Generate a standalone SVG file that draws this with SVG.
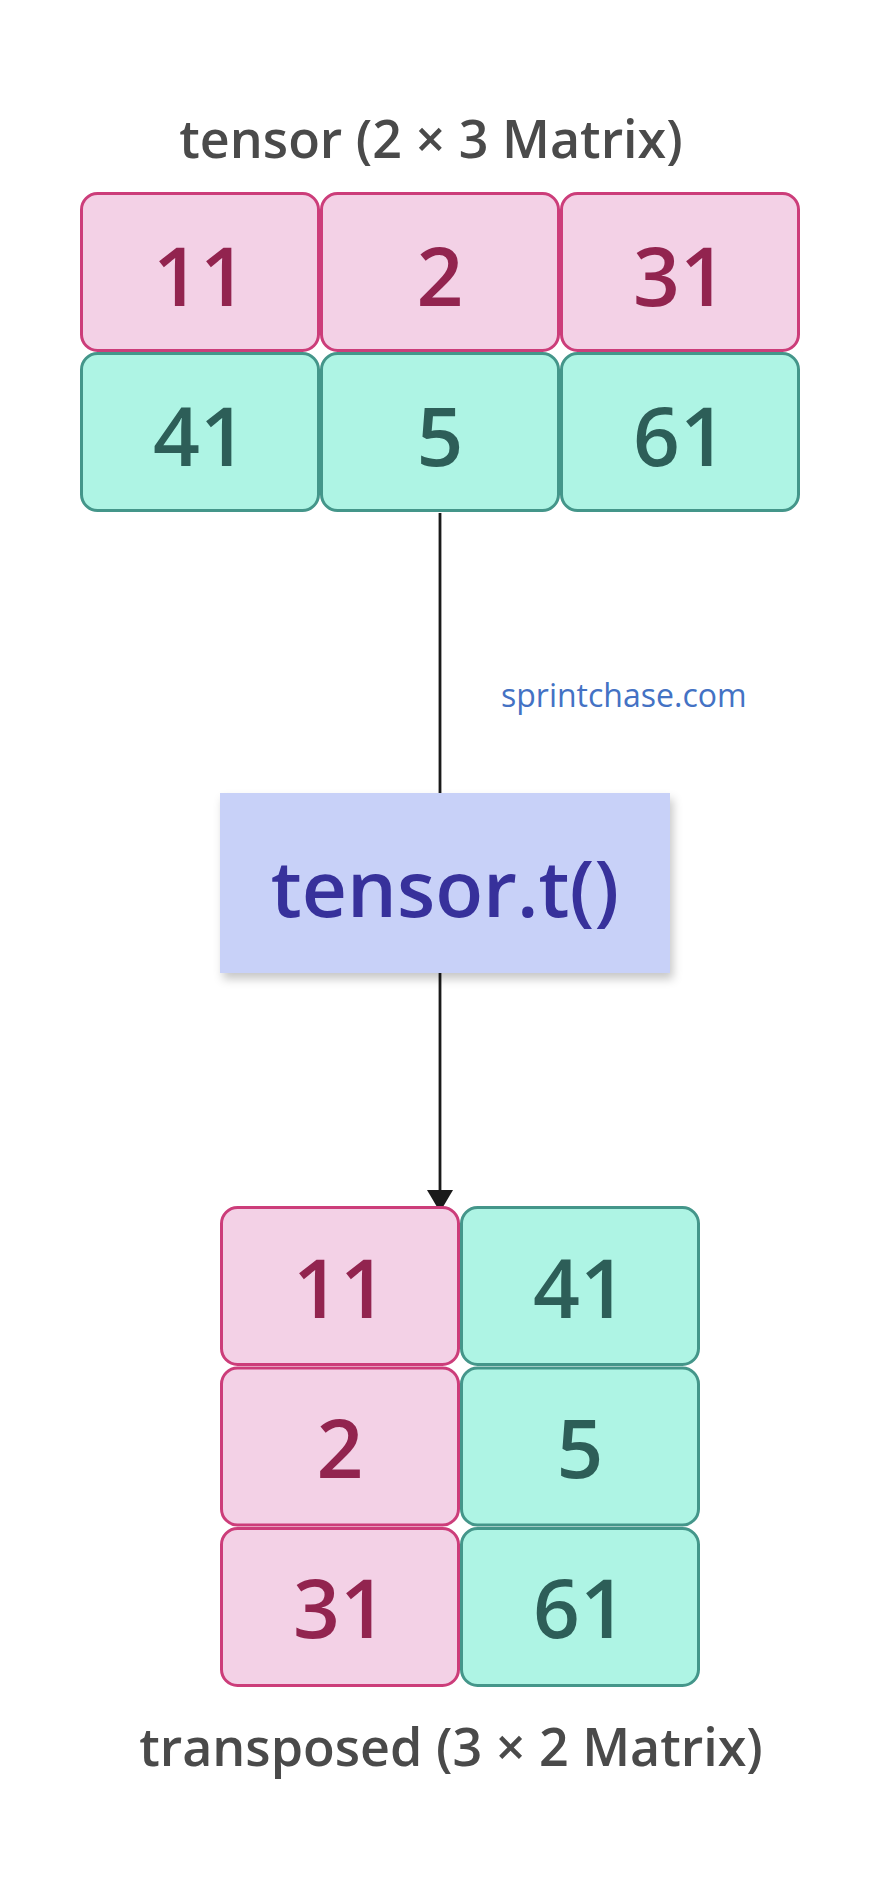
<svg xmlns="http://www.w3.org/2000/svg" width="880" height="1879" viewBox="0 0 880 1879">
  <style>
    .title { font-family: "Open Sans", "Noto Sans", "Liberation Sans", sans-serif; font-size: 52px; font-weight: 600; fill: #4a4a4a; text-anchor: middle; }
    .pink rect { fill: #f3d1e6; stroke: #cc3d7a; stroke-width: 3; }
    .green rect { fill: #aef4e4; stroke: #44968a; stroke-width: 3; }
    .num { font-family: "Open Sans", "Noto Sans", "Liberation Sans", sans-serif; font-size: 82px; font-weight: 600; text-anchor: middle; }
    .pink .num { fill: #92244f; }
    .green .num { fill: #2d5e58; }
    .op rect { fill: #c8d1f8; }
    .op text { font-family: "Open Sans", "Noto Sans", "Liberation Sans", sans-serif; font-size: 78.5px; font-weight: 600; fill: #37319b; text-anchor: middle; }
    .link { font-family: "Open Sans", "Noto Sans", "Liberation Sans", sans-serif; font-size: 32px; fill: #4472c4; }
    .edge { stroke: #1a1a1a; stroke-width: 2.8; fill: none; }
  </style>
  <defs>
    <filter id="shadow" x="-10%" y="-10%" width="125%" height="135%">
      <feDropShadow dx="3" dy="6" stdDeviation="5" flood-color="#000000" flood-opacity="0.22"/>
    </filter>
  </defs>
  <rect width="880" height="1879" fill="#ffffff"/>

  <g id="title-tensor">
    <text class="title" x="431" y="158">tensor (2 × 3 Matrix)</text>
  </g>

  <g id="connectors">
    <line class="edge" x1="440" y1="513" x2="440" y2="793"/>
    <path class="edge" d="M440,973 L440,1192"/>
    <path d="M427,1190 L453,1190 L440,1212 Z" fill="#1a1a1a"/>
  </g>

  <g id="t00" class="pink"><rect x="81.5" y="193.5" width="237" height="157" rx="16"/><text class="num" x="200" y="306">11</text></g>
  <g id="t01" class="pink"><rect x="321.5" y="193.5" width="237" height="157" rx="16"/><text class="num" x="440" y="306">2</text></g>
  <g id="t02" class="pink"><rect x="561.5" y="193.5" width="237" height="157" rx="16"/><text class="num" x="680" y="306">31</text></g>
  <g id="t10" class="green"><rect x="81.5" y="353.5" width="237" height="157" rx="16"/><text class="num" x="200" y="466">41</text></g>
  <g id="t11" class="green"><rect x="321.5" y="353.5" width="237" height="157" rx="16"/><text class="num" x="440" y="466">5</text></g>
  <g id="t12" class="green"><rect x="561.5" y="353.5" width="237" height="157" rx="16"/><text class="num" x="680" y="466">61</text></g>

  <g id="watermark">
    <text class="link" x="501" y="707">sprintchase.com</text>
  </g>

  <g id="op" class="op">
    <rect x="220" y="793" width="450" height="180" filter="url(#shadow)"/>
    <text x="445" y="917">tensor.t()</text>
  </g>

  <g id="r00" class="pink"><rect x="221.5" y="1207.5" width="237" height="157" rx="16"/><text class="num" x="340" y="1318">11</text></g>
  <g id="r01" class="green"><rect x="461.5" y="1207.5" width="237" height="157" rx="16"/><text class="num" x="580" y="1318">41</text></g>
  <g id="r10" class="pink"><rect x="221.5" y="1368" width="237" height="157" rx="16"/><text class="num" x="340" y="1478">2</text></g>
  <g id="r11" class="green"><rect x="461.5" y="1368" width="237" height="157" rx="16"/><text class="num" x="580" y="1478">5</text></g>
  <g id="r20" class="pink"><rect x="221.5" y="1528.5" width="237" height="157" rx="16"/><text class="num" x="340" y="1638">31</text></g>
  <g id="r21" class="green"><rect x="461.5" y="1528.5" width="237" height="157" rx="16"/><text class="num" x="580" y="1638">61</text></g>

  <g id="title-transposed">
    <text class="title" x="451" y="1766">transposed (3 × 2 Matrix)</text>
  </g>
</svg>
